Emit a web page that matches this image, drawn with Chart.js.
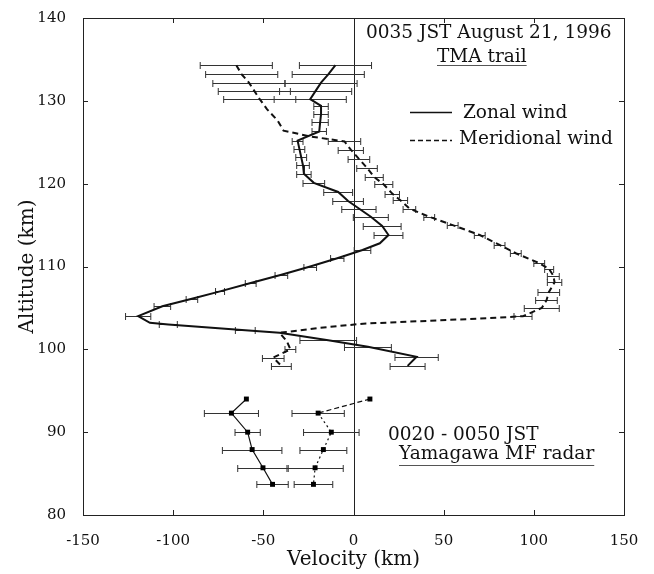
<!DOCTYPE html>
<html>
<head>
<meta charset="utf-8">
<script src="https://cdn.jsdelivr.net/npm/chart.js@4.4.0/dist/chart.umd.min.js"></script>
<style>
  html, body { margin: 0; padding: 0; background: #fff; }
</style>
</head>
<body>
<canvas id="chart" width="654" height="574"></canvas>
<script>
// TMA trail, zonal wind
const zonalAlt = [134.3, 133.2, 132.2, 131.2, 130.2, 129.4, 128.4, 127.4, 126.3, 125.2,
                  124.2, 123.2, 122.2, 121.2, 120.1, 119.0, 117.9, 117.0, 116.0, 114.9,
                  113.8, 112.8, 112.0, 111.0, 110.0, 109.0, 108.0, 107.0, 106.1, 105.2,
                  104.0, 103.2, 103.0, 102.3, 102.0, 101.1, 100.3, 99.1, 98.0];
const zonalVel = [-10, -14, -18, -21, -24, -18, -18, -18.5, -19, -31,
                  -30, -29, -28, -27.5, -22, -8.5, -3, 3, 9.6, 15.9,
                  19.4, 14.6, 5, -9, -24, -40, -57, -74, -89.6, -106,
                  -119.4, -112.9, -102.7, -60, -41, -14, 8, 35, 30];
const zonalErr = [20, 20, 20, 20, 20, 4, 4, 4.5, 4, 3,
                  3, 3, 3.5, 4, 6, 8, 8.5, 9.5, 9.7, 10.5,
                  8, 0, 4.6, 3.7, 3.5, 3.5, 3, 2.5, 3.2, 4.6,
                  7, 0, 5, 5.5, 0, 15.7, 13, 12, 9.7];

// TMA trail, meridional wind
const meridAlt = [134.3, 133.2, 132.2, 131.2, 130.2, 129.0, 127.6, 126.4, 125.7, 125.1,
                  124.1, 123.0, 121.9, 120.8, 119.9, 118.8, 118.0, 117.0, 116.0, 115.0,
                  113.8, 112.6, 111.6, 110.4, 109.7, 108.9, 108.1, 106.9, 105.9, 105.0,
                  104.0, 103.8, 103.1, 102.6, 102.0, 101.0, 100.0, 99.0, 98.0];
const meridVel = [-65, -62, -58, -55, -52, -48, -42, -38.8, -24, -5,
                  -1.5, 3, 7.5, 11.5, 16.8, 21.5, 26, 31, 42, 55,
                  70, 81, 90, 103, 108.5, 110.8, 111.5, 108.3, 107, 104.4,
                  94, 79, 5.4, -18.6, -41, -37, -35, -44.5, -40];
const meridErr = [20, 20, 20, 20, 20, 0, 0, 0, 0, 9,
                  7, 6, 5.7, 5, 5, 4, 4, 3.5, 3, 3,
                  3, 3, 3, 3, 2.5, 3.3, 4, 6, 6, 9.7,
                  5, 0, 0, 0, 0, 0, 3, 6, 5.5];

// Yamagawa MF radar
const radarAlt = [94.0, 92.3, 90.0, 87.9, 85.7, 83.7];
const radarZonal = [-59.4, -67.7, -58.7, -56.2, -50.2, -44.9];
const radarZonalErr = [0, 15, 7, 16.5, 14, 8.7];
const radarMerid = [9.1, -19.6, -12.3, -16.7, -21.3, -22.2];
const radarMeridErr = [0, 14.5, 15.4, 13, 15.6, 10.7];

const xTicks = [-150, -100, -50, 0, 50, 100, 150];
const yTicks = [80, 90, 100, 110, 120, 130, 140];

const SERIF = '"DejaVu Serif", serif';
const INK = '#111';

function toPoints(alts, vels) {
  return alts.map((a, i) => ({ x: vels[i], y: a }));
}

// horizontal error bars, frame, zero line and inward ticks
const frameAndErrors = {
  id: 'frameAndErrors',
  beforeDatasetsDraw(chart) {
    const { ctx, chartArea: a, scales: { x, y } } = chart;
    ctx.save();
    ctx.strokeStyle = '#222';
    ctx.lineWidth = 1;
    ctx.strokeRect(a.left + 0.5, a.top + 0.5, a.right - a.left, a.bottom - a.top);
    const x0 = Math.round(x.getPixelForValue(0)) + 0.5;
    ctx.beginPath();
    ctx.moveTo(x0, a.top);
    ctx.lineTo(x0, a.bottom);
    ctx.stroke();
    const tl = 5;
    ctx.beginPath();
    xTicks.slice(1, -1).forEach(v => {
      const px = Math.round(x.getPixelForValue(v)) + 0.5;
      ctx.moveTo(px, a.bottom); ctx.lineTo(px, a.bottom - tl);
      ctx.moveTo(px, a.top); ctx.lineTo(px, a.top + tl);
    });
    yTicks.slice(1, -1).forEach(v => {
      const py = Math.round(y.getPixelForValue(v)) + 0.5;
      ctx.moveTo(a.left, py); ctx.lineTo(a.left + tl, py);
      ctx.moveTo(a.right, py); ctx.lineTo(a.right - tl, py);
    });
    ctx.stroke();

    ctx.strokeStyle = '#333';
    ctx.lineWidth = 1;
    chart.data.datasets.forEach(ds => {
      if (!ds.errors) return;
      ds.data.forEach((p, i) => {
        const e = ds.errors[i];
        if (!e) return;
        const l = x.getPixelForValue(p.x - e);
        const r = x.getPixelForValue(p.x + e);
        const py = Math.round(y.getPixelForValue(p.y)) + 0.5;
        ctx.beginPath();
        ctx.moveTo(l, py); ctx.lineTo(r, py);
        ctx.moveTo(l, py - 3.5); ctx.lineTo(l, py + 3.5);
        ctx.moveTo(r, py - 3.5); ctx.lineTo(r, py + 3.5);
        ctx.stroke();
      });
    });
    ctx.restore();
  },
  afterDraw(chart) {
    const { ctx } = chart;
    ctx.save();
    ctx.fillStyle = INK;
    ctx.font = '18.5px ' + SERIF;
    ctx.textBaseline = 'middle';
    ctx.textAlign = 'left';
    ctx.fillText('0035 JST August 21, 1996', 366, 33);
    ctx.fillText('TMA trail', 437, 57);
    ctx.fillText('Zonal wind', 463, 113);
    ctx.fillText('Meridional wind', 459, 139);
    ctx.fillText('0020 - 0050 JST', 388, 435);
    ctx.fillText('Yamagawa MF radar', 399, 454);

    ctx.strokeStyle = '#555';
    ctx.lineWidth = 1;
    ctx.beginPath();
    ctx.moveTo(437, 65.5); ctx.lineTo(437 + ctx.measureText('TMA trail').width, 65.5);
    ctx.moveTo(399, 465.5); ctx.lineTo(399 + ctx.measureText('Yamagawa MF radar').width, 465.5);
    ctx.stroke();

    // legend keys
    ctx.strokeStyle = INK;
    ctx.lineWidth = 1.5;
    ctx.beginPath();
    ctx.moveTo(410, 112.5); ctx.lineTo(452, 112.5);
    ctx.stroke();
    ctx.setLineDash([5, 3]);
    ctx.beginPath();
    ctx.moveTo(410, 140.5); ctx.lineTo(452, 140.5);
    ctx.stroke();
    ctx.restore();
  }
};

new Chart(document.getElementById('chart'), {
  type: 'scatter',
  data: {
    datasets: [{
      label: 'Zonal wind',
      data: toPoints(zonalAlt, zonalVel),
      errors: zonalErr,
      showLine: true,
      borderColor: INK,
      borderWidth: 2,
      pointRadius: 0
    }, {
      label: 'Meridional wind',
      data: toPoints(meridAlt, meridVel),
      errors: meridErr,
      showLine: true,
      borderColor: INK,
      borderWidth: 2,
      borderDash: [6, 4],
      pointRadius: 0
    }, {
      label: 'Radar zonal',
      data: toPoints(radarAlt, radarZonal),
      errors: radarZonalErr,
      showLine: true,
      borderColor: INK,
      borderWidth: 1.2,
      pointStyle: 'rect',
      pointRadius: 3.5,
      pointBackgroundColor: '#000',
      pointBorderWidth: 0
    }, {
      label: 'Radar meridional',
      data: toPoints(radarAlt, radarMerid),
      errors: radarMeridErr,
      showLine: true,
      borderColor: INK,
      borderWidth: 1.2,
      segment: { borderDash: ctx => ctx.p0DataIndex === 0 ? [5, 3] : [2, 3] },
      pointStyle: 'rect',
      pointRadius: 3.5,
      pointBackgroundColor: '#000',
      pointBorderWidth: 0
    }]
  },
  options: {
    responsive: false,
    animation: false,
    devicePixelRatio: 1,
    layout: { padding: { top: 15, right: 30, left: 0, bottom: 0 } },
    plugins: { legend: { display: false }, tooltip: { enabled: false } },
    scales: {
      x: {
        type: 'linear',
        min: -150, max: 150,
        afterBuildTicks: s => { s.ticks = xTicks.map(v => ({ value: v })); },
        afterFit: s => { s.height = 59; },
        grid: { display: false },
        border: { display: false },
        ticks: { color: INK, padding: 9, maxRotation: 0, font: { family: SERIF, size: 15 } },
        title: { display: true, text: 'Velocity (km)', color: INK, padding: { top: 0, bottom: 2 },
                 font: { family: SERIF, size: 20 } }
      },
      y: {
        type: 'linear',
        min: 80, max: 140,
        afterBuildTicks: s => { s.ticks = yTicks.map(v => ({ value: v })); },
        afterFit: s => { s.width = 83; },
        grid: { display: false },
        border: { display: false },
        ticks: { color: INK, padding: 9, font: { family: SERIF, size: 15 } },
        title: { display: true, text: 'Altitude (km)', color: INK, padding: { top: 16, bottom: 0 },
                 font: { family: SERIF, size: 20 } }
      }
    }
  },
  plugins: [frameAndErrors]
});
</script>
</body>
</html>
